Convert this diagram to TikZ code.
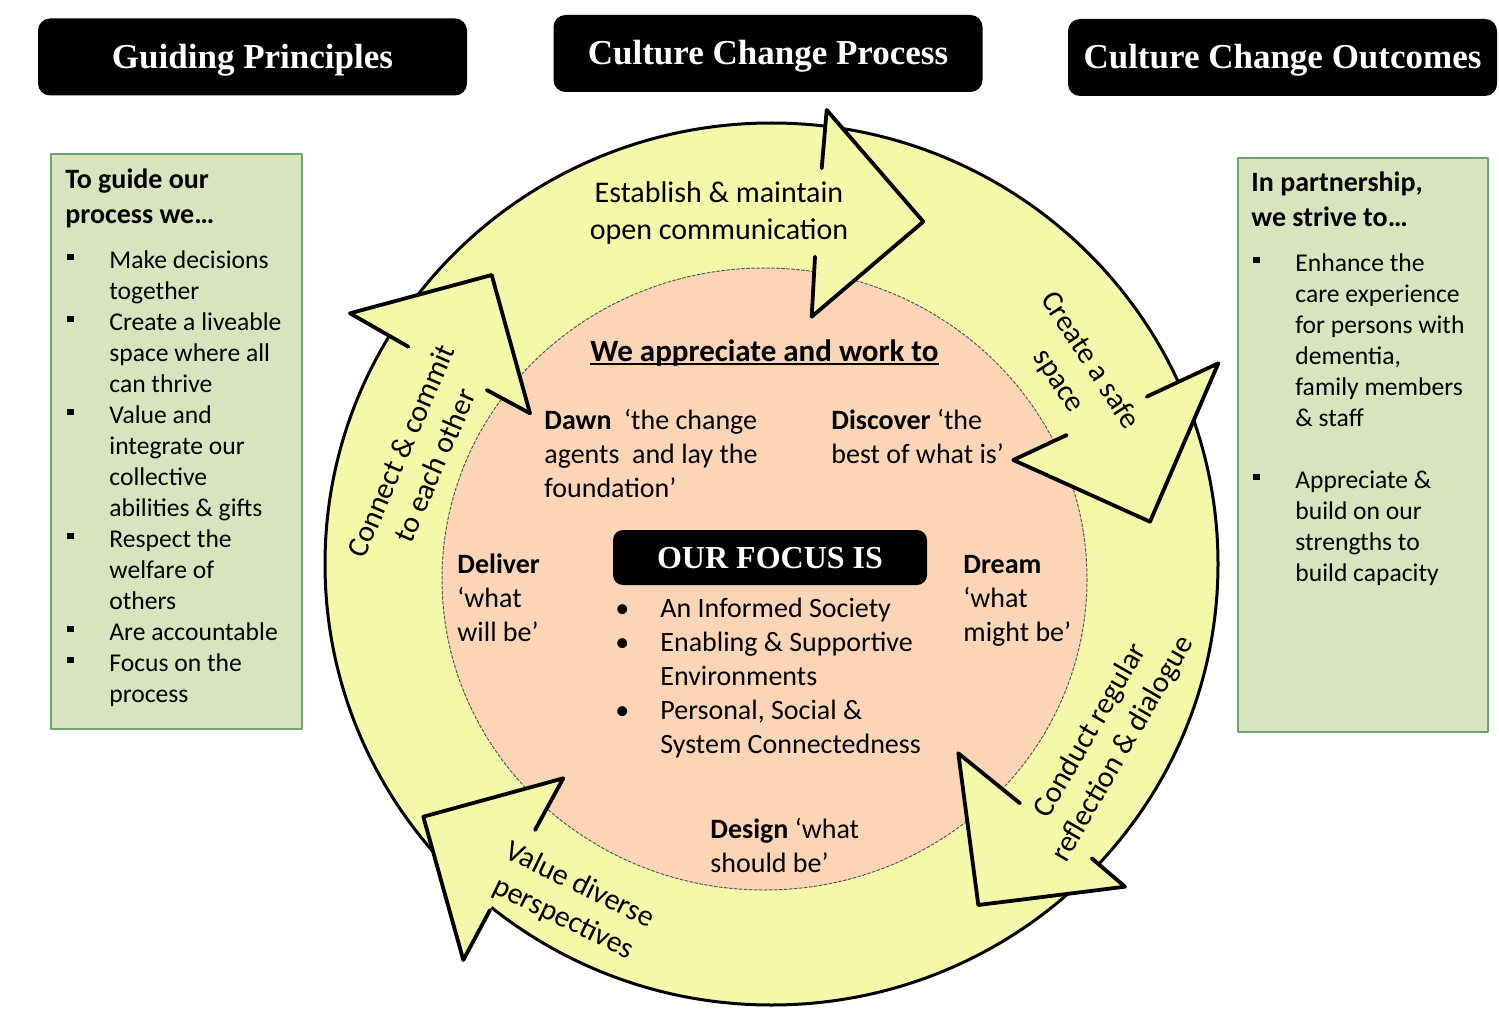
\documentclass[tikz,border=0pt]{standalone}
\usepackage{fontspec}
\setmainfont{Carlito}
\newfontfamily\serifhead{Liberation Serif}
\definecolor{ringyellow}{HTML}{F4F9A9}
\definecolor{peach}{HTML}{FBD5B5}
\definecolor{sage}{HTML}{D7E4BD}
\definecolor{sageline}{HTML}{6DA56F}
% square and round bullets, hanging indent
\newcommand{\sqb}{\makebox[21pt][l]{\rule[4pt]{3.2pt}{3.2pt}}}
\newcommand{\ind}{\hspace*{21pt}}
\newcommand{\rdot}{\makebox[22.5pt][l]{•}}
% arrow head on the ring: outer shaft, outer corner, tip, inner corner, inner shaft
\newcommand{\bigtip}[5]{\fill[ringyellow] #1--#2--#3--#4--#5--cycle; \draw[tipline] #1--#2--#3--#4--#5;}
\begin{document}
\begin{tikzpicture}[x=0.5pt, y=-0.5pt, line join=round, line cap=round,
  head/.style={fill=black, rounded corners=6pt, minimum width=214.5pt, minimum height=38.5pt, inner sep=0pt,
    text=white, font=\serifhead\bfseries\fontsize{17.5}{20}\selectfont, text height=11.5pt, text depth=0pt},
  sagebox/.style={fill=sage, draw=sageline, line width=0.8pt, anchor=north west, inner sep=0pt},
  boxtxt/.style={anchor=base west, inner sep=0pt, align=left, font=\fontsize{12.8}{15.5}\selectfont},
  boxhead/.style={boxtxt, font=\bfseries\fontsize{14}{17.5}\selectfont},
  ringtxt/.style={inner sep=0pt, align=center, font=\fontsize{15}{18.5}\selectfont},
  midtxt/.style={anchor=base west, inner sep=0pt, align=left, font=\fontsize{14}{17}\selectfont},
  tipline/.style={line width=1.9pt}]
\def\cx{771.5} \def\cy{564} % outer ring centre
\def\px{764.5} \def\py{579} % inner disc centre
\useasboundingbox (0,0) rectangle (1499,1016);
\fill[white] (0,0) rectangle (1499,1016);

% headers
\node[head] (gp) at (252.5,57) {Guiding Principles};
\node[head] (ccp) at (768,53.5) {Culture Change Process};
\node[head] (cco) at (1282.5,57.5) {Culture Change Outcomes};

% side boxes (text nodes sit on the baseline of their last line)
\node[sagebox, minimum width=125.5pt, minimum height=287.5pt] (guide) at (50,153) {};
\node[sagebox, minimum width=125pt, minimum height=287pt] (strive) at (1237,157) {};
\node[boxhead] (guidehd) at (65,224) {To guide our\\process we…};
\node[boxtxt] (guidelist) at (67,702) {\sqb Make decisions\\\ind together\\\sqb Create a liveable\\\ind space where all\\\ind can thrive\\
  \sqb Value and\\\ind integrate our\\\ind collective\\\ind abilities \& gifts\\\sqb Respect the\\\ind welfare of\\\ind others\\
  \sqb Are accountable\\\sqb Focus on the\\\ind process};
\node[boxhead] (strivehd) at (1251,227) {In partnership,\\we strive to…};
\node[boxtxt] (strivelist) at (1253,581) {\sqb Enhance the\\\ind care experience\\\ind for persons with\\\ind dementia,\\\ind family members\\\ind \& staff\\[15.5pt]
  \sqb Appreciate \&\\\ind build on our\\\ind strengths to\\\ind build capacity};

% ring and inner disc
\draw[fill=ringyellow, line width=1.5pt] (\cx,\cy) ellipse [x radius=446.5, y radius=441];
\draw[fill=peach, draw=black!65, line width=0.5pt, dash pattern=on 1.5pt off 1pt] (\px,\py) ellipse [x radius=322.5, y radius=311];

% arrow heads, clockwise from the top
\bigtip{(821.7,168.3)}{(826.7,110)}{(923.3,221.7)}{(811.7,316.7)}{(815,256.7)}
\bigtip{(1146.7,396.7)}{(1218.3,363.3)}{(1150,521.7)}{(1013.3,460)}{(1066.7,435)}
\bigtip{(1091.7,858.3)}{(1125,886.7)}{(978.3,905)}{(958.3,753.3)}{(1020,803.3)}
\bigtip{(490,910)}{(463.3,960)}{(423.3,816.7)}{(563.3,778.3)}{(535,830)}
\bigtip{(408.3,346.7)}{(350,313.3)}{(491.7,275)}{(530,413.3)}{(486.7,390)}

% ring labels
\node[ringtxt, anchor=base] (comm) at (719,240) {Establish \& maintain\\open communication};
\node[ringtxt, rotate=-57] (safe) at (1074,371) {Create a safe\\space};
\node[ringtxt, rotate=60] (reflect) at (1107,740) {Conduct regular\\reflection \& dialogue};
\node[ringtxt, rotate=-26] (diverse) at (571.5,902) {Value diverse\\perspectives};
\node[ringtxt, rotate=66.5] (commit) at (417.5,458) {Connect \& commit\\to each other};

% inner disc
\node[midtxt, font=\bfseries\fontsize{15.5}{17}\selectfont] (appr) at (590,361) {We appreciate and work to};
\draw[line width=1.2pt, line cap=butt] ([yshift=-1.5pt]appr.base west) -- ([yshift=-1.5pt]appr.base east);
\node[midtxt] (dawn) at (544,497) {\textbf{Dawn}\ \ ‘the change\\agents\ \ and lay the\\foundation’};
\node[midtxt] (disc) at (831,463) {\textbf{Discover} ‘the\\best of what is’};
\node[midtxt] (deliver) at (457,641) {\textbf{Deliver}\\‘what\\will be’};
\node[midtxt] (dream) at (963,641) {\textbf{Dream}\\‘what\\might be’};
\node[midtxt] (design) at (710,872) {\textbf{Design} ‘what\\should be’};
\node[head, minimum width=157pt, minimum height=27.5pt, rounded corners=5pt, text height=10.6pt,
  font=\serifhead\bfseries\fontsize{16}{18}\selectfont] (focus) at (770,557.5) {OUR FOCUS IS};
\node[midtxt] (focuslist) at (615,753) {\rdot An Informed Society\\\rdot Enabling \& Supportive\\\hspace*{22.5pt}Environments\\
  \rdot Personal, Social \&\\\hspace*{22.5pt}System Connectedness};
\end{tikzpicture}
\end{document}
